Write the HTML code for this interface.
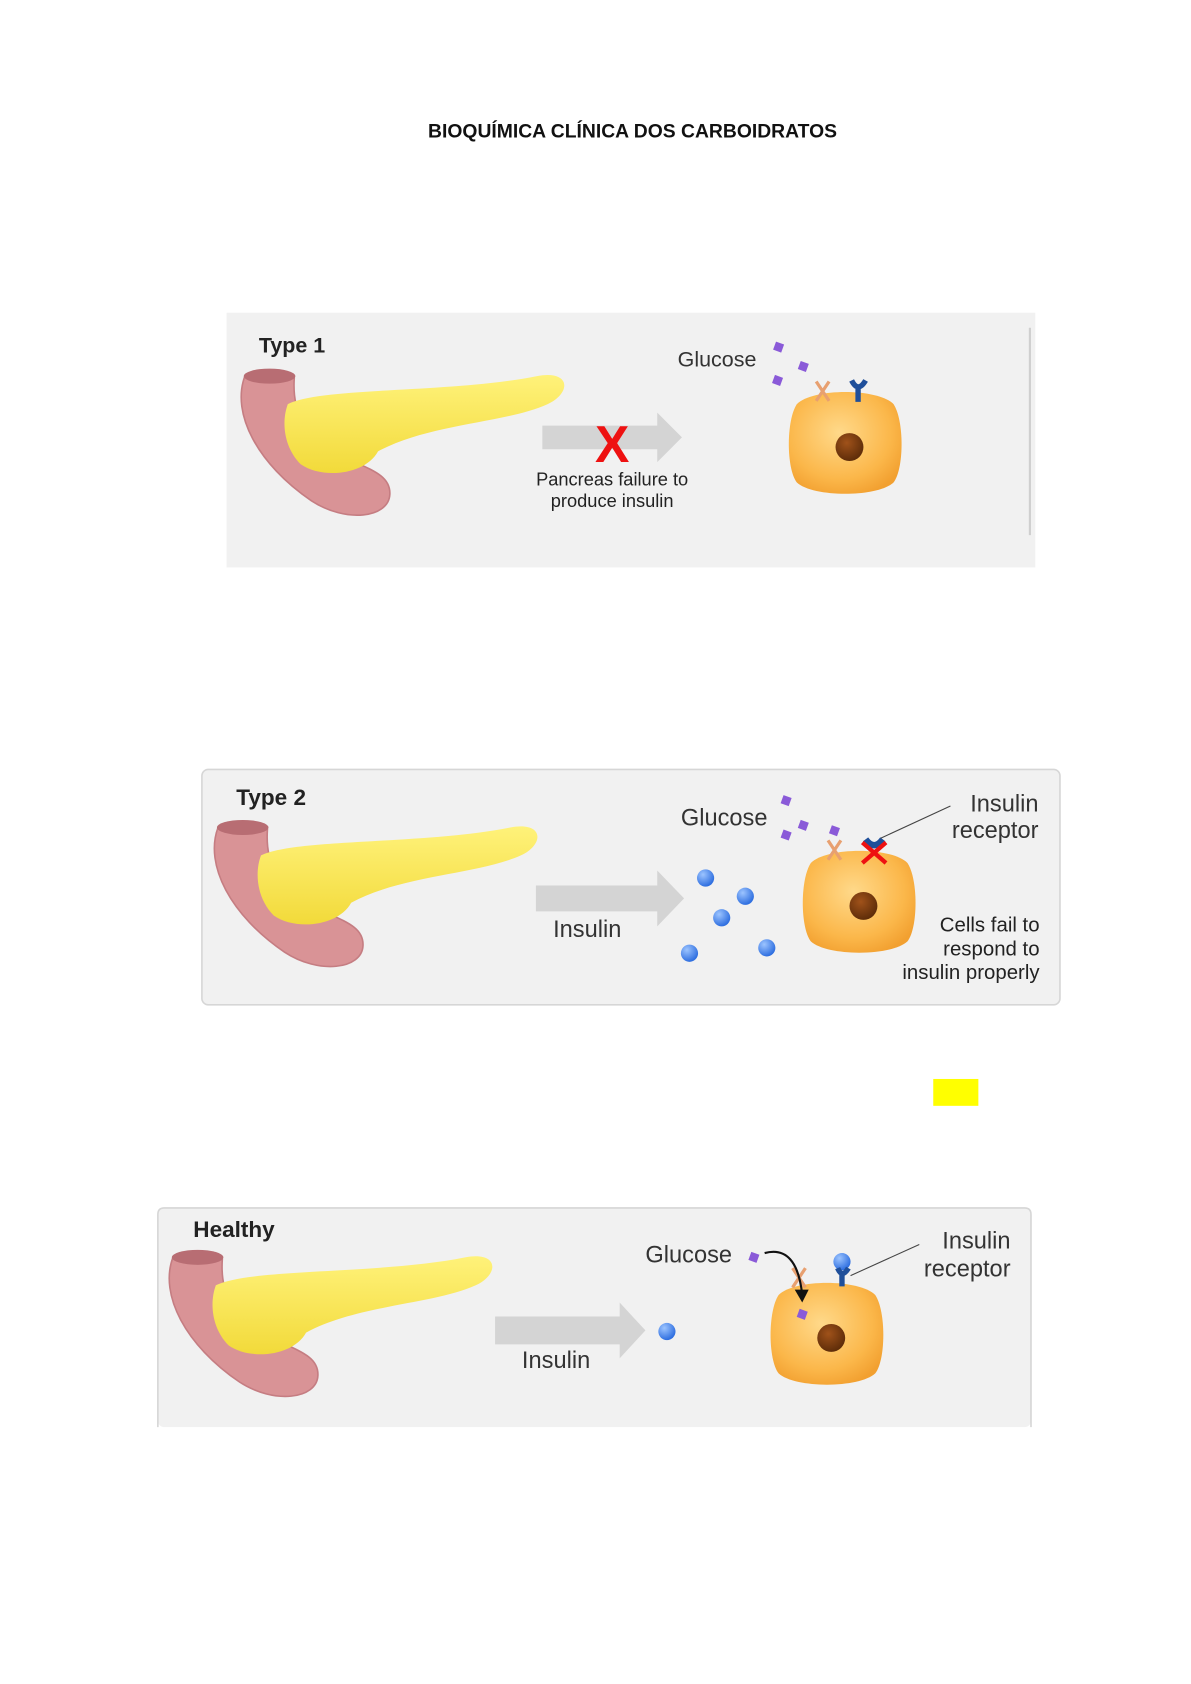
<!DOCTYPE html>
<html><head><meta charset="utf-8"><style>
html,body{margin:0;padding:0;background:#fff;}
svg{display:block;}
text{font-family:"Liberation Sans","DejaVu Sans",sans-serif;}
</style></head><body>
<svg width="1191" height="1684" viewBox="0 0 1109 1567" preserveAspectRatio="none" xmlns="http://www.w3.org/2000/svg">
<defs>
<radialGradient id="cellg" cx="0.45" cy="0.4" r="0.65"><stop offset="0" stop-color="#ffd98a"/><stop offset="0.7" stop-color="#fbb74a"/><stop offset="1" stop-color="#f2a030"/></radialGradient>
<radialGradient id="nuc" cx="0.4" cy="0.35" r="0.7"><stop offset="0" stop-color="#a0521a"/><stop offset="1" stop-color="#5a2a08"/></radialGradient>
<radialGradient id="blue" cx="0.35" cy="0.3" r="0.7"><stop offset="0" stop-color="#9cc4ff"/><stop offset="1" stop-color="#2f6fe0"/></radialGradient>
<linearGradient id="yel" x1="0" y1="0" x2="0" y2="1"><stop offset="0" stop-color="#fff27a"/><stop offset="1" stop-color="#f2da3a"/></linearGradient>
<g id="panc">
<path d="M228,350 C215,385 240,432 290,466 C322,487 362,482 363,460 C364,440 340,436 312,421 C282,402 272,382 274,352 Z" fill="#d99396" stroke="#c57d82" stroke-width="1.5"/>
<ellipse cx="251" cy="350" rx="24" ry="7" fill="#b86d73"/>
<path d="M268,376 C300,360 420,366 500,350 C532,344 532,366 510,376 C470,394 400,394 352,420 C340,442 300,446 280,432 C264,416 262,392 268,376 Z" fill="url(#yel)"/>
</g>
<g id="cell">
<path d="M-45,-35 C-30,-50 30,-50 45,-35 C55,-20 55,25 45,38 C30,52 -30,52 -45,38 C-55,25 -55,-20 -45,-35 Z" fill="url(#cellg)"/>
<circle cx="4" cy="5" r="13" fill="url(#nuc)"/>
</g>
<g id="gl"><rect x="-4" y="-4" width="8" height="8" transform="rotate(20)" fill="#8a5ad8"/></g>
</defs>

<text x="589" y="128" text-anchor="middle" font-size="18" font-weight="bold" fill="#111">BIOQUÍMICA CLÍNICA DOS CARBOIDRATOS</text>

<!-- Type 1 -->
<rect x="211" y="291" width="753" height="237" fill="#f1f1f1"/>
<line x1="959" y1="305" x2="959" y2="498" stroke="#cfcfcf" stroke-width="2"/>
<text x="241" y="328" font-size="20" font-weight="bold" fill="#222">Type 1</text>
<use href="#panc"/>
<path d="M505,396 H612 V384 L635,407 L612,430 V418 H505 Z" fill="#d4d4d4"/>
<text x="570" y="430" text-anchor="middle" font-size="48" font-weight="bold" fill="#e11">X</text>
<text x="570" y="452" text-anchor="middle" font-size="17" fill="#222">Pancreas failure to</text>
<text x="570" y="472" text-anchor="middle" font-size="17" fill="#222">produce insulin</text>
<text x="631" y="341" font-size="20" fill="#333">Glucose</text>
<use href="#gl" x="725" y="323"/><use href="#gl" x="748" y="341"/><use href="#gl" x="724" y="354"/>
<use href="#cell" x="787" y="411"/>
<path d="M760,355 L772,373 M772,355 L760,373" stroke="#e8a070" stroke-width="3"/>
<path d="M793,354 Q799,366 806,354 M799,362 V374" stroke="#1f4f9a" stroke-width="5" fill="none"/>

<!-- Type 2 -->
<rect x="188" y="716" width="799" height="219" rx="6" fill="#f1f1f1" stroke="#d6d6d6" stroke-width="1.5"/>
<text x="220" y="749" font-size="21" font-weight="bold" fill="#222">Type 2</text>
<use href="#panc" transform="translate(-25,420)"/>
<path d="M499,824 H612 V810 L637,836 L612,862 V848 H499 Z" fill="#d4d4d4"/>
<text x="515" y="872" font-size="22" fill="#333">Insulin</text>
<text x="634" y="768" font-size="22" fill="#333">Glucose</text>
<use href="#gl" x="732" y="745"/><use href="#gl" x="748" y="768"/><use href="#gl" x="732" y="777"/>
<circle cx="657" cy="817" r="8" fill="url(#blue)"/><circle cx="694" cy="834" r="8" fill="url(#blue)"/>
<circle cx="672" cy="854" r="8" fill="url(#blue)"/><circle cx="642" cy="887" r="8" fill="url(#blue)"/>
<circle cx="714" cy="882" r="8" fill="url(#blue)"/>
<use href="#cell" x="800" y="838"/>
<path d="M771,782 L783,800 M783,782 L771,800" stroke="#e8a070" stroke-width="3"/>
<use href="#gl" x="777" y="773"/>
<path d="M806,781 Q814,792 822,781" stroke="#1f4f9a" stroke-width="6" fill="none"/>
<path d="M803,784 L825,803 M825,784 L803,803" stroke="#e11" stroke-width="4"/>
<line x1="820" y1="780" x2="885" y2="750" stroke="#444" stroke-width="1"/>
<text x="967" y="755" text-anchor="end" font-size="22" fill="#333">Insulin</text>
<text x="967" y="780" text-anchor="end" font-size="22" fill="#333">receptor</text>
<text x="968" y="867" text-anchor="end" font-size="19" fill="#222">Cells fail to</text>
<text x="968" y="889" text-anchor="end" font-size="19" fill="#222">respond to</text>
<text x="968" y="911" text-anchor="end" font-size="19" fill="#222">insulin properly</text>

<!-- Healthy -->
<rect x="147" y="1124" width="813" height="204" rx="6" fill="#f1f1f1"/>
<path d="M147,1328 V1130 Q147,1124 153,1124 H954 Q960,1124 960,1130 V1328" fill="none" stroke="#d6d6d6" stroke-width="1.5"/>
<text x="180" y="1151" font-size="21" font-weight="bold" fill="#222">Healthy</text>
<use href="#panc" transform="translate(-67,820)"/>
<path d="M461,1225 H577 V1212 L601,1238 L577,1264 V1251 H461 Z" fill="#d4d4d4"/>
<text x="486" y="1273" font-size="22" fill="#333">Insulin</text>
<circle cx="621" cy="1239" r="8" fill="url(#blue)"/>
<text x="601" y="1175" font-size="22" fill="#333">Glucose</text>
<use href="#gl" x="702" y="1170"/>
<use href="#cell" x="770" y="1240"/>
<path d="M738,1180 L750,1198 M750,1180 L738,1198" stroke="#e8a070" stroke-width="3"/>
<use href="#gl" x="747" y="1223"/>
<path d="M712,1166 Q742,1158 747,1205" stroke="#111" stroke-width="2" fill="none"/>
<path d="M740,1200 L747,1212 L753,1200 Z" fill="#111"/>
<circle cx="784" cy="1174" r="8" fill="url(#blue)"/>
<path d="M780,1180 Q784,1190 790,1180 M784,1184 V1197" stroke="#1f4f9a" stroke-width="5" fill="none"/>
<line x1="792" y1="1187" x2="856" y2="1158" stroke="#444" stroke-width="1"/>
<text x="941" y="1162" text-anchor="end" font-size="22" fill="#333">Insulin</text>
<text x="941" y="1188" text-anchor="end" font-size="22" fill="#333">receptor</text>

<rect x="869" y="1004" width="42" height="25" fill="#ffff00"/>
</svg>
</body></html>
